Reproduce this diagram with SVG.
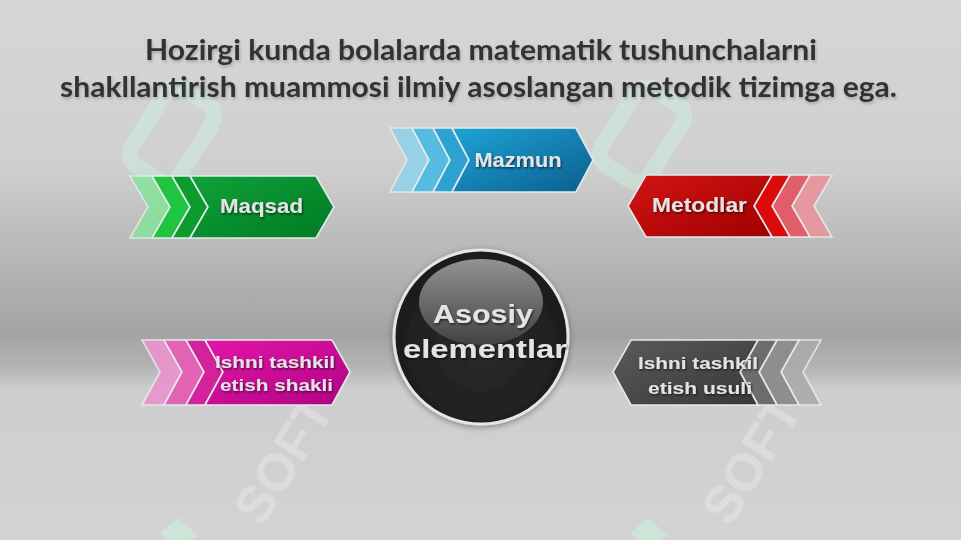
<svg xmlns="http://www.w3.org/2000/svg" width="961" height="540" viewBox="0 0 961 540">
<defs>
  <linearGradient id="bg" x1="0" y1="0" x2="0" y2="1">
    <stop offset="0" stop-color="#d6d6d6"/>
    <stop offset="0.3" stop-color="#d0d0d0"/>
    <stop offset="0.46" stop-color="#b9b9b9"/>
    <stop offset="0.62" stop-color="#a3a3a3"/>
    <stop offset="0.68" stop-color="#b4b4b4"/>
    <stop offset="0.72" stop-color="#cecece"/>
    <stop offset="1" stop-color="#d3d3d3"/>
  </linearGradient>
  <linearGradient id="gGreen" x1="0" y1="0" x2="1" y2="1">
    <stop offset="0" stop-color="#0fa23a"/>
    <stop offset="1" stop-color="#007a22"/>
  </linearGradient>
  <linearGradient id="gBlue" x1="0" y1="0" x2="1" y2="1">
    <stop offset="0" stop-color="#1ea4d6"/>
    <stop offset="1" stop-color="#0a5e8e"/>
  </linearGradient>
  <linearGradient id="gRed" x1="0" y1="0" x2="1" y2="1">
    <stop offset="0" stop-color="#d41414"/>
    <stop offset="1" stop-color="#a00000"/>
  </linearGradient>
  <linearGradient id="gPink" x1="0" y1="0" x2="1" y2="1">
    <stop offset="0" stop-color="#e414a8"/>
    <stop offset="1" stop-color="#b00484"/>
  </linearGradient>
  <linearGradient id="gGray" x1="0" y1="0" x2="1" y2="1">
    <stop offset="0" stop-color="#5a5a5a"/>
    <stop offset="1" stop-color="#383838"/>
  </linearGradient>
  <radialGradient id="gBall" cx="0.5" cy="0.55" r="0.55">
    <stop offset="0" stop-color="#2c2c2c"/>
    <stop offset="1" stop-color="#1c1c1c"/>
  </radialGradient>
  <linearGradient id="gGloss" x1="0" y1="0" x2="0" y2="1">
    <stop offset="0" stop-color="#a0a0a0"/>
    <stop offset="0.6" stop-color="#6a6a6a"/>
    <stop offset="1" stop-color="#444444"/>
  </linearGradient>
  <filter id="sh" x="-10%" y="-10%" width="120%" height="130%">
    <feDropShadow dx="1" dy="1.5" stdDeviation="0.8" flood-color="#000" flood-opacity="0.6"/>
  </filter>
  <filter id="tsh" x="-5%" y="-20%" width="110%" height="150%">
    <feDropShadow dx="1" dy="2" stdDeviation="1.5" flood-color="#000" flood-opacity="0.22"/>
  </filter>
  <filter id="ballsh" x="-20%" y="-20%" width="140%" height="140%">
    <feDropShadow dx="0" dy="2" stdDeviation="3" flood-color="#000" flood-opacity="0.35"/>
  </filter>
</defs>
<style>
  .title { font-family: Lato, "Open Sans", sans-serif; font-weight: bold; font-size: 28px; fill: #333333; }
  .lbl { font-family: "Liberation Sans", Arial, sans-serif; font-weight: bold; fill: #e4e4e4; text-anchor: middle; }
  .ch { stroke: #e4eaea; stroke-width: 1.6; stroke-linejoin: miter; }
  .wm { fill: #c9f2dd; opacity: 0.6; }
  .wmr { fill: none; stroke: #c9f2dd; stroke-width: 16; opacity: 0.45; }
  .wmt { font-family: "Liberation Sans", Arial, sans-serif; font-weight: bold; font-size: 52px; fill: #eeeeee; opacity: 0.4; }
</style>

<rect x="0" y="0" width="961" height="540" fill="url(#bg)"/>

<g id="watermark">
  <rect class="wmr" x="-28" y="-45" width="56" height="90" rx="14" transform="translate(172,135) rotate(32)"/>
  <rect class="wmr" x="-28" y="-45" width="56" height="90" rx="14" transform="translate(642,135) rotate(32)"/>
  <polygon class="wm" points="178,518 198,536 188,540 168,540 160,533"/>
  <polygon class="wm" points="648,518 668,536 658,540 638,540 630,533"/>
  <text class="wmt" transform="translate(262,528) rotate(-58)">SOFT</text>
  <text class="wmt" transform="translate(730,528) rotate(-58)">SOFT</text>
</g>

<g id="title" filter="url(#tsh)">
  <text class="title" x="145" y="60" textLength="672" lengthAdjust="spacingAndGlyphs">Hozirgi kunda bolalarda matematik tushunchalarni</text>
  <text class="title" x="60" y="97" textLength="837" lengthAdjust="spacingAndGlyphs">shakllantirish muammosi ilmiy asoslangan metodik tizimga ega.</text>
</g>

<g id="connectors"></g>

<g id="node-maqsad">
  <polygon class="ch" fill="#86e29a" opacity="0.85" points="130,176 152,176 170,207 152,238 130,238 148,207"/>
  <polygon class="ch" fill="#1fc441" points="152,176 172,176 190,207 172,238 152,238 170,207"/>
  <polygon class="ch" fill="#0c9c2e" points="172,176 190,176 208,207 190,238 172,238 190,207"/>
  <polygon class="ch" fill="url(#gGreen)" points="190,176 316,176 334,207 316,238 190,238 208,207"/>
  <text class="lbl" x="261.5" y="213" font-size="21" textLength="83" lengthAdjust="spacingAndGlyphs" filter="url(#sh)">Maqsad</text>
</g>

<g id="node-mazmun">
  <polygon class="ch" fill="#92d2ea" opacity="0.9" points="390,128 412,128 429,160 412,192 390,192 407,160"/>
  <polygon class="ch" fill="#55bbe0" points="412,128 433,128 450,160 433,192 412,192 429,160"/>
  <polygon class="ch" fill="#2ca2d2" points="433,128 452,128 469,160 452,192 433,192 450,160"/>
  <polygon class="ch" fill="url(#gBlue)" points="452,128 576,128 593,160 576,192 452,192 469,160"/>
  <text class="lbl" x="518" y="167" font-size="21" textLength="87" lengthAdjust="spacingAndGlyphs" filter="url(#sh)">Mazmun</text>
</g>

<g id="node-metodlar">
  <polygon class="ch" fill="#e8939b" opacity="0.9" points="832,175 810,175 792,206 810,237 832,237 814,206"/>
  <polygon class="ch" fill="#e05e6a" points="810,175 790,175 772,206 790,237 810,237 792,206"/>
  <polygon class="ch" fill="#dc0a0a" points="790,175 772,175 754,206 772,237 790,237 772,206"/>
  <polygon class="ch" fill="url(#gRed)" points="772,175 646,175 628,206 646,237 772,237 754,206"/>
  <text class="lbl" x="699.5" y="212" font-size="20" textLength="95" lengthAdjust="spacingAndGlyphs" filter="url(#sh)">Metodlar</text>
</g>

<g id="node-shakli">
  <polygon class="ch" fill="#ea94cc" opacity="0.9" points="142,340 164,340 182,372 164,405 142,405 160,372"/>
  <polygon class="ch" fill="#e262b4" points="164,340 186,340 204,372 186,405 164,405 182,372"/>
  <polygon class="ch" fill="#d2229c" points="186,340 205,340 223,372 205,405 186,405 204,372"/>
  <polygon class="ch" fill="url(#gPink)" points="205,340 332,340 350,372 332,405 205,405 223,372"/>
  <text class="lbl" x="275" y="368" font-size="17" textLength="120" lengthAdjust="spacingAndGlyphs" filter="url(#sh)">Ishni tashkil</text>
  <text class="lbl" x="276.5" y="391" font-size="17" textLength="113" lengthAdjust="spacingAndGlyphs" filter="url(#sh)">etish shakli</text>
</g>

<g id="node-usuli">
  <polygon class="ch" fill="#ababab" opacity="0.9" points="821,340 799,340 781,372 799,405 821,405 803,372"/>
  <polygon class="ch" fill="#8e8e8e" points="799,340 777,340 759,372 777,405 799,405 781,372"/>
  <polygon class="ch" fill="#6c6c6c" points="777,340 758,340 740,372 758,405 777,405 759,372"/>
  <polygon class="ch" fill="url(#gGray)" points="758,340 631,340 613,372 631,405 758,405 740,372"/>
  <text class="lbl" x="698" y="369" font-size="17" textLength="120" lengthAdjust="spacingAndGlyphs" filter="url(#sh)">Ishni tashkil</text>
  <text class="lbl" x="700" y="394" font-size="17" textLength="104" lengthAdjust="spacingAndGlyphs" filter="url(#sh)">etish usuli</text>
</g>

<g id="node-center">
  <circle cx="481" cy="337" r="87" fill="url(#gBall)" stroke="#e6e6e6" stroke-width="3" filter="url(#ballsh)"/>
  <ellipse cx="481" cy="302" rx="62" ry="43" fill="url(#gGloss)" opacity="0.9"/>
  <text class="lbl" x="483" y="323" font-size="25" textLength="100" lengthAdjust="spacingAndGlyphs" filter="url(#sh)">Asosiy</text>
  <text class="lbl" x="485" y="358" font-size="25" textLength="164" lengthAdjust="spacingAndGlyphs" filter="url(#sh)">elementlar</text>
</g>
</svg>
